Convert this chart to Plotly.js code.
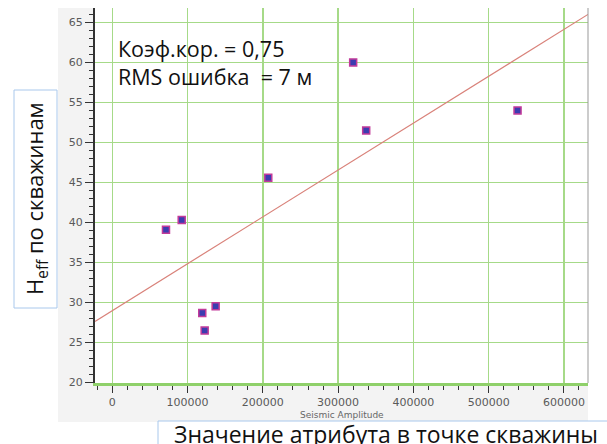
<!DOCTYPE html>
<html><head><meta charset="utf-8">
<script src="https://cdn.plot.ly/plotly-3.0.1.min.js"></script>
<style>html,body{margin:0;padding:0;background:#fff}#c{width:607px;height:444px}</style>
</head><body><div id="c"></div>
<script>
// Well points: seismic amplitude vs Heff
const amplitude = [71300, 92200, 119500, 122700, 137300, 207200, 320000, 337300, 538400];
const heff      = [39.1, 40.3, 28.7, 26.5, 29.55, 45.6, 60.0, 51.5, 54.0];
// Regression line end points
const regX = [-23000, 632000];
const regY = [27.65, 66.0];
const xTicks = [0, 100000, 200000, 300000, 400000, 500000, 600000];
const yTicks = [20, 25, 30, 35, 40, 45, 50, 55, 60, 65];

const W = 493, H = 375, L = 95, T = 8;
const px = x => (x - L) / W;
const py = y => (T + H - y) / H;

const traces = [
  {x: regX, y: regY, mode: 'lines', line: {color: '#d9827a', width: 1.2}, hoverinfo: 'skip'},
  {x: amplitude, y: heff, mode: 'markers',
   marker: {symbol: 'square', size: 7, color: '#3b3cb0', line: {color: '#c23b9a', width: 1.5}}}
];

const gridc = '#a6da88';
const layout = {
  width: 607, height: 444,
  margin: {l: L, r: 607 - L - W, t: T, b: 444 - T - H, pad: 0},
  paper_bgcolor: '#ffffff', plot_bgcolor: 'rgba(0,0,0,0)',
  showlegend: false,
  xaxis: {range: [-23000, 632000], tickvals: xTicks, ticktext: xTicks.map(String),
    showgrid: true, gridcolor: gridc, gridwidth: 1.5, zeroline: false,
    showline: true, linecolor: '#8fd06a', linewidth: 2.5,
    ticks: 'outside', ticklen: 7, tickcolor: '#333', tickwidth: 1,
    minor: {dtick: 20000, tick0: 0, ticklen: 4, tickcolor: '#333', showgrid: false, ticks: 'outside'},
    tickfont: {family: 'DejaVu Sans', size: 11, color: '#5a5a5a'}},
  yaxis: {range: [19.95, 66.8], tickvals: yTicks, ticktext: yTicks.map(String),
    showgrid: true, gridcolor: gridc, gridwidth: 1.5, zeroline: false,
    showline: true, linecolor: '#333', linewidth: 2,
    ticks: 'outside', ticklen: 8, tickcolor: '#333', tickwidth: 1,
    minor: {dtick: 1, tick0: 0, ticklen: 4, tickcolor: '#333', showgrid: false, ticks: 'outside'},
    tickfont: {family: 'DejaVu Sans', size: 11, color: '#5a5a5a'}},
  shapes: [
    {type: 'rect', xref: 'paper', yref: 'paper', x0: px(58), x1: 1, y0: py(422), y1: 1,
     fillcolor: '#f3f3f3', line: {width: 0}, layer: 'below'},
    {type: 'rect', xref: 'paper', yref: 'paper', x0: 0, x1: 1, y0: 0, y1: 1,
     fillcolor: '#ffffff', line: {width: 0}, layer: 'below'},
    {type: 'line', xref: 'paper', yref: 'paper', x0: 1, x1: 1, y0: 0, y1: 1,
     line: {color: '#999', width: 1}},
    {type: 'rect', xref: 'paper', yref: 'paper', x0: px(14), x1: px(57), y0: py(308), y1: py(90),
     fillcolor: '#ffffff', line: {color: '#a9c8ec', width: 1}},
    {type: 'rect', xref: 'paper', yref: 'paper', x0: px(158), x1: px(620), y0: py(421), y1: py(460),
     fillcolor: '#ffffff', line: {color: '#a9c8ec', width: 1}}
  ],
  annotations: [
    {xref: 'paper', yref: 'paper', x: px(116), y: py(62), xanchor: 'left', yanchor: 'middle', align: 'left',
     text: 'Коэф.кор. = 0,75<br>RMS ошибка \u00a0= 7 м', showarrow: false,
     font: {family: 'Open Sans', size: 21.5, color: '#111'}},
    {xref: 'paper', yref: 'paper', x: px(342), y: py(414.5), xanchor: 'center', yanchor: 'middle',
     text: 'Seismic Amplitude', showarrow: false, font: {family: 'DejaVu Sans', size: 9, color: '#666'}},
    {xref: 'paper', yref: 'paper', x: px(36), y: py(199), xanchor: 'center', yanchor: 'middle',
     text: 'H<sub>eff</sub> по скважинам', textangle: -90, showarrow: false,
     font: {family: 'Open Sans', size: 22, color: '#111'}},
    {xref: 'paper', yref: 'paper', x: px(172), y: py(434), xanchor: 'left', yanchor: 'middle',
     text: 'Значение атрибута в точке скважины', showarrow: false,
     font: {family: 'Open Sans', size: 23, color: '#111'}}
  ]
};
Plotly.newPlot('c', traces, layout, {displayModeBar: false, staticPlot: true});
</script></body></html>
